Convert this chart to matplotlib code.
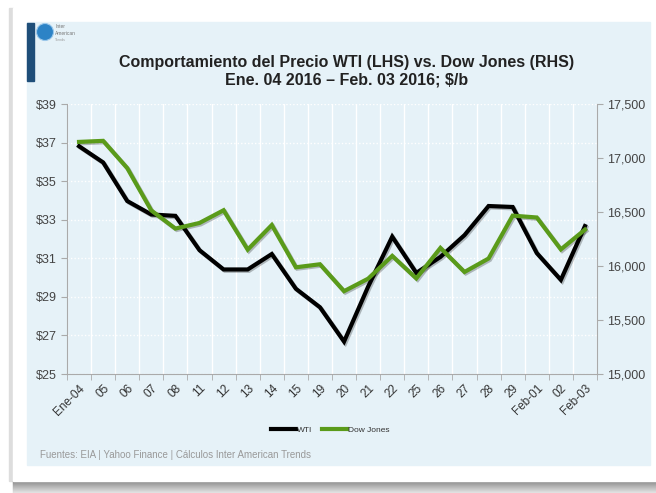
import matplotlib.pyplot as plt
import matplotlib.patches as mpatches
import matplotlib.patheffects as pe
from matplotlib.ticker import FuncFormatter, FixedLocator
from matplotlib.lines import Line2D

plt.rcParams['font.family'] = ['Liberation Sans', 'DejaVu Sans']

# data
fechas = ['Ene-04', '05', '06', '07', '08', '11', '12', '13', '14', '15', '19',
          '20', '21', '22', '25', '26', '27', '28', '29', 'Feb-01', '02', 'Feb-03']
wti = [36.81, 35.97, 33.97, 33.27, 33.20, 31.42, 30.42, 30.42, 31.22, 29.42, 28.46,
       26.68, 29.53, 32.12, 30.24, 31.07, 32.20, 33.71, 33.66, 31.27, 29.88, 32.67]
dow = [17148.94, 17158.66, 16906.51, 16514.10, 16346.45, 16398.57, 16516.22, 16151.41,
       16379.05, 15988.08, 16016.02, 15766.74, 15882.68, 16093.51, 15885.22, 16167.23,
       15944.46, 16069.64, 16466.30, 16449.18, 16153.54, 16336.66]

W, H = 656, 493
panel_bg = '#E6F2F8'
green = '#5A9B1A'

fig = plt.figure(figsize=(W / 100, H / 100), dpi=100)
fig.patch.set_facecolor('white')


def box(x0, y0, x1, y1, **kw):
    # rectangle given in pixel coords (top-left origin)
    r = mpatches.Rectangle((x0 / W, 1 - y1 / H), (x1 - x0) / W, (y1 - y0) / H,
                           transform=fig.transFigure, **kw)
    fig.add_artist(r)
    return r


# card shadow + card + light blue panel
box(9, 8, 13, 481, color='#DDDDDD', zorder=0)
for i in range(12):
    g = 0.55 + 0.03 * i
    box(13, 481 + i, W, 482 + i, color=(g, g, g), zorder=0)
box(13, 8, W, 481, color='white', zorder=0)
box(27, 22, 650, 465, color=panel_bg, zorder=0)
box(27, 23, 34, 81, color='#1F4E79', zorder=1)

# little logo
logo = mpatches.Ellipse((45 / W, 1 - 32 / H), 17 / W, 17 / H, transform=fig.transFigure,
                        facecolor='#2C83C6', edgecolor='#9CC8EA', lw=0.8, zorder=2)
fig.add_artist(logo)
fig.text(55 / W, 1 - 28 / H, 'Inter', fontsize=3.5, color='#777777')
fig.text(55 / W, 1 - 35 / H, 'American', fontsize=3.5, color='#777777')
fig.text(55 / W, 1 - 41 / H, 'Trends', fontsize=2.5, color='#999999')

# titles
fig.text(347 / W, 1 - 62 / H, 'Comportamiento del Precio WTI (LHS) vs. Dow Jones (RHS)',
         ha='center', va='center', fontsize=11.5, fontweight='bold', color='#222222')
fig.text(347 / W, 1 - 80 / H, 'Ene. 04 2016 \u2013 Feb. 03 2016; $/b',
         ha='center', va='center', fontsize=11.5, fontweight='bold', color='#222222')

ax = fig.add_axes([67 / W, 1 - 374 / H, (597 - 67) / W, (374 - 104) / H])
ax.set_facecolor(panel_bg)
x = list(range(len(fechas)))

ax.set_xlim(-0.5, len(fechas) - 0.5)
ax.set_ylim(25, 39)
ax.set_yticks(range(25, 40, 2))
ax.yaxis.set_major_formatter(FuncFormatter(lambda v, p: f'${v:.0f}'))
ax.set_xticks(x)
ax.set_xticklabels(fechas, rotation=45, ha='right', rotation_mode='anchor')
ax.xaxis.set_minor_locator(FixedLocator([i - 0.5 for i in range(len(fechas) + 1)]))
ax.tick_params(axis='x', which='major', length=0, pad=6, labelsize=8.5, labelcolor='#333333')
ax.tick_params(axis='x', which='minor', length=4, color='#AAAAAA')
ax.tick_params(axis='y', length=4, color='#AAAAAA', labelsize=9, labelcolor='#444444')
ax.grid(axis='x', which='minor', color='white', lw=1)
ax.grid(axis='y', which='major', color='white', lw=1, ls=(0, (1, 1.5)))
ax.set_axisbelow(True)
for s in ['top', 'right']:
    ax.spines[s].set_visible(False)
for s in ['left', 'bottom']:
    ax.spines[s].set_color('#AAAAAA')

ax2 = ax.twinx()
ax2.set_ylim(15000, 17500)
ax2.set_yticks(range(15000, 17501, 500))
ax2.yaxis.set_major_formatter(FuncFormatter(lambda v, p: f'{v:,.0f}'))
ax2.tick_params(axis='y', length=4, color='#AAAAAA', labelsize=9, labelcolor='#444444')
for s in ['top', 'left', 'bottom']:
    ax2.spines[s].set_visible(False)
ax2.spines['right'].set_color('#AAAAAA')

shadow = [pe.SimpleLineShadow(offset=(1, -1), alpha=0.25), pe.Normal()]
ax.plot(x, wti, color='black', lw=3, solid_joinstyle='miter', path_effects=shadow, zorder=3)
ax2.plot(x, dow, color=green, lw=3, solid_joinstyle='miter', path_effects=shadow, zorder=3)

handles = [Line2D([], [], color='black', lw=3), Line2D([], [], color=green, lw=3)]
fig.legend(handles, ['WTI', 'Dow Jones'], loc='center', bbox_to_anchor=(330 / W, 1 - 430 / H),
           ncol=2, frameon=False, fontsize=6, handlelength=3, handletextpad=0.1,
           columnspacing=1.2, labelcolor='#333333')

fig.text(40 / W, 1 - 455 / H, 'Fuentes: EIA | Yahoo Finance | C\u00e1lculos Inter American Trends',
         fontsize=7, color='#999999', va='center')

plt.savefig('out.png', dpi=100, facecolor='white')
